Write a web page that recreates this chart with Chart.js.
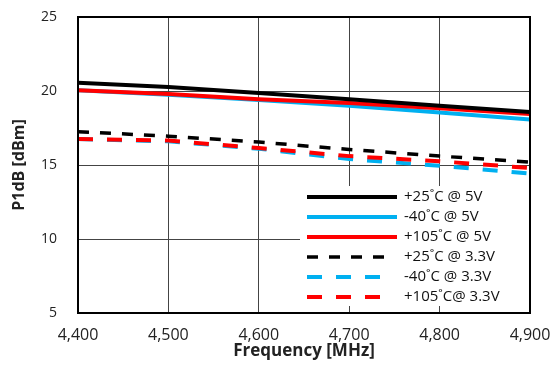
<!DOCTYPE html>
<html lang="en">
<head>
  <meta charset="UTF-8">
  <title>P1dB vs Frequency</title>
  <script src="https://cdn.jsdelivr.net/npm/chart.js"></script>
  <style>
    html, body { margin: 0; padding: 0; background: #fff; }
    #wrap { width: 550px; height: 377px; }
  </style>
</head>
<body>
<div id="wrap"><canvas id="myChart" width="550" height="377"></canvas></div>

<script>
  // frequency points (MHz)
  var freqs = [4400, 4500, 4600, 4700, 4800, 4900];

  // P1dB values (dBm)
  var p25_5V   = [20.55, 20.27, 19.86, 19.44, 19.00, 18.58];
  var m40_5V   = [20.05, 19.75, 19.40, 19.00, 18.55, 18.08];
  var p105_5V  = [20.05, 19.80, 19.44, 19.19, 18.83, 18.44];
  var p25_33V  = [17.25, 16.95, 16.55, 16.05, 15.60, 15.20];
  var m40_33V  = [16.75, 16.60, 16.10, 15.40, 14.95, 14.42];
  var p105_33V = [16.75, 16.65, 16.15, 15.60, 15.25, 14.80];

  var seriesNames = ['+25˚C @ 5V', '-40˚C @ 5V', '+105˚C @ 5V',
                     '+25˚C @ 3.3V', '-40˚C @ 3.3V', '+105˚C@ 3.3V'];

  function pts(vals) {
    return vals.map(function(v, i) { return { x: freqs[i], y: v }; });
  }

  var FONT = "'Open Sans', 'Liberation Sans', sans-serif";

  // legend drawn inside the plot area, bottom right, white box
  var insideLegend = {
    id: 'insideLegend',
    afterDatasetsDraw: function(chart) {
      var ctx = chart.ctx;
      var area = chart.chartArea;
      var boxX = 300, boxY = 186, boxW = area.right - 300 - 1, boxH = 120;
      ctx.save();
      ctx.fillStyle = '#fff';
      ctx.fillRect(boxX, boxY, boxW, boxH);
      ctx.font = '15px ' + FONT;
      ctx.textBaseline = 'middle';
      chart.data.datasets.forEach(function(ds, i) {
        var y = 197 + i * 20;
        ctx.beginPath();
        ctx.strokeStyle = ds.borderColor;
        ctx.lineWidth = ds.borderWidth;
        ctx.setLineDash(ds.borderDash || []);
        ctx.lineCap = 'butt';
        if (ds.borderDash) {
          ctx.moveTo(307, y); ctx.lineTo(385, y);
        } else {
          ctx.moveTo(307, y); ctx.lineTo(397, y);
        }
        ctx.stroke();
        ctx.setLineDash([]);
        ctx.fillStyle = '#111';
        ctx.fillText(ds.label, 404, y);
      });
      ctx.restore();
    },
    afterDraw: function(chart) {
      var ctx = chart.ctx;
      var a = chart.chartArea;
      ctx.save();
      ctx.strokeStyle = '#000';
      ctx.lineWidth = 2;
      ctx.strokeRect(a.left, a.top, a.right - a.left, a.bottom - a.top);
      ctx.restore();
    }
  };

  // legend order = array order; "order" only sets which line sits on top
  var datasets = [
    { label: seriesNames[0], data: pts(p25_5V),   borderColor: '#000000', borderWidth: 4, order: 0 },
    { label: seriesNames[1], data: pts(m40_5V),   borderColor: '#00b0f0', borderWidth: 4, order: 2 },
    { label: seriesNames[2], data: pts(p105_5V),  borderColor: '#ff0000', borderWidth: 4, order: 1 },
    { label: seriesNames[3], data: pts(p25_33V),  borderColor: '#000000', borderWidth: 3.5, borderDash: [11, 11], order: 3 },
    { label: seriesNames[4], data: pts(m40_33V),  borderColor: '#00b0f0', borderWidth: 4, borderDash: [15, 14], order: 5 },
    { label: seriesNames[5], data: pts(p105_33V), borderColor: '#ff0000', borderWidth: 4, borderDash: [15, 14], order: 4 }
  ].map(function(d) {
    d.pointRadius = 0;
    d.fill = false;
    d.tension = 0;
    return d;
  });

  var ctx = document.getElementById('myChart').getContext('2d');
  var myChart = new Chart(ctx, {
    type: 'line',
    data: { datasets: datasets },
    options: {
      responsive: false,
      animation: false,
      layout: { padding: { left: 0, right: 20, top: 17, bottom: 0 } },
      plugins: {
        legend: { display: false },
        tooltip: { enabled: false }
      },
      scales: {
        x: {
          type: 'linear',
          min: 4400,
          max: 4900,
          grid: { color: '#444', lineWidth: 1, drawTicks: false },
          border: { display: false },
          ticks: {
            stepSize: 100,
            padding: 13,
            color: '#222',
            font: { family: FONT, size: 16 },
            callback: function(v) { return v.toLocaleString('en-US'); }
          },
          title: {
            display: true,
            text: 'Frequency [MHz]',
            color: '#222',
            font: { family: FONT, size: 17, weight: 'bold' },
            padding: { top: 0, bottom: 16 }
          },
          afterFit: function(scale) {
            scale.height = 64;
            scale.paddingLeft = 0;
            scale.paddingRight = 0;
          }
        },
        y: {
          min: 5,
          max: 25,
          grid: { color: '#444', lineWidth: 1, drawTicks: false },
          border: { display: false },
          ticks: {
            stepSize: 5,
            padding: 21,
            color: '#222',
            font: { family: FONT, size: 14 }
          },
          title: {
            display: true,
            text: 'P1dB [dBm]',
            color: '#222',
            font: { family: FONT, size: 16, weight: 'bold' },
            padding: { top: 10, bottom: 0 }
          },
          afterFit: function(scale) {
            scale.width = 78;
            scale.paddingTop = 0;
            scale.paddingBottom = 0;
          }
        }
      }
    },
    plugins: [insideLegend]
  });
</script>
</body>
</html>
